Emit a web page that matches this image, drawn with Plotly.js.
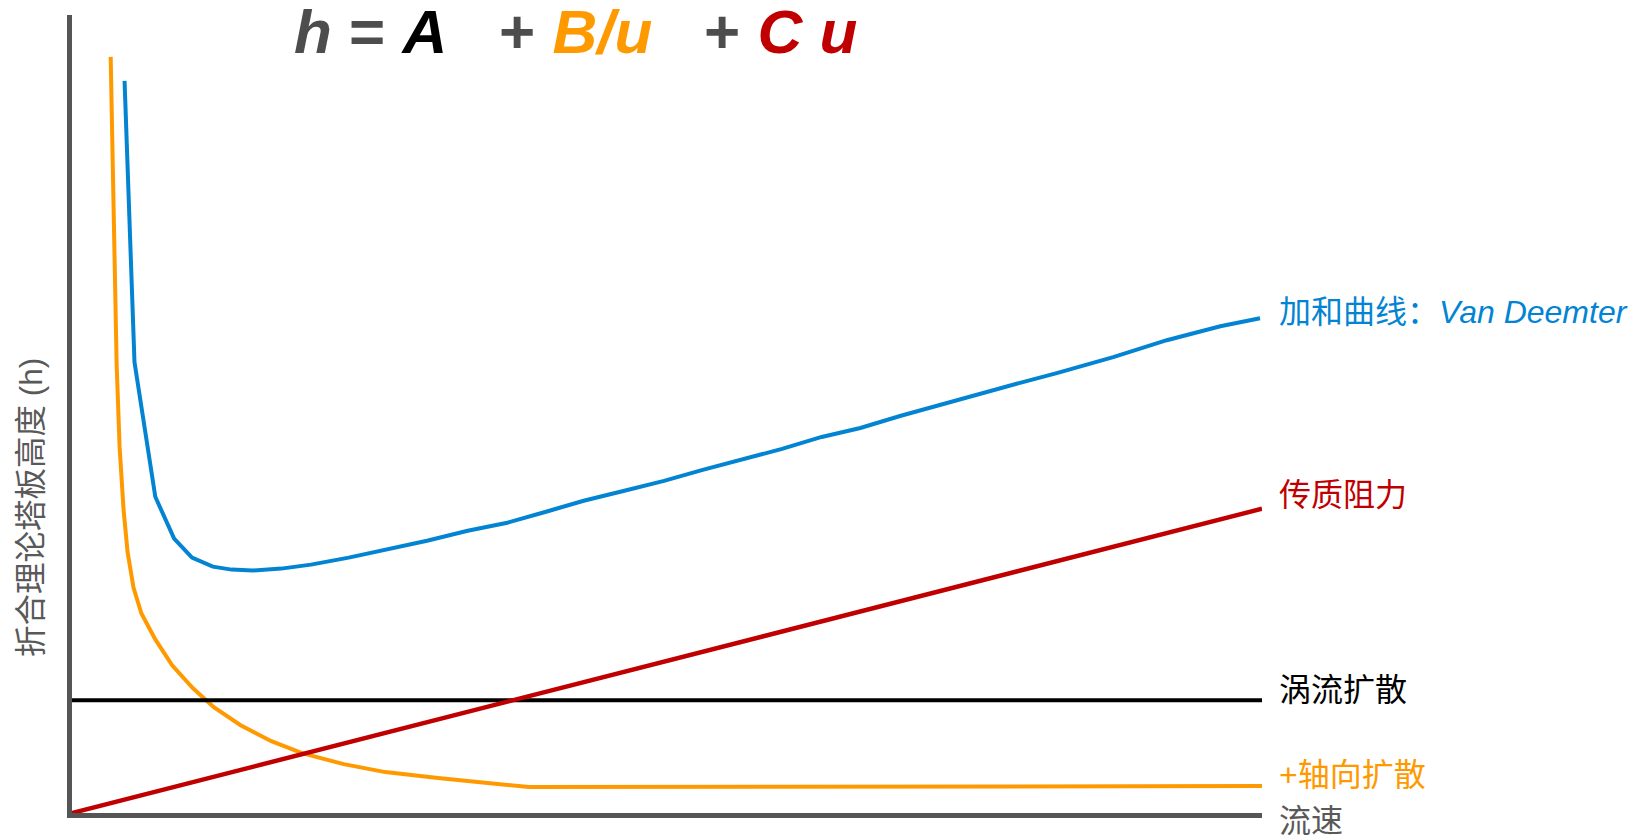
<!DOCTYPE html>
<html>
<head>
<meta charset="utf-8">
<script src="https://cdn.plot.ly/plotly-3.0.1.min.js"></script>
<style>html,body{margin:0;padding:0;background:#fff;}#chart{width:1631px;height:835px;}</style>
</head>
<body>
<div id="chart"></div>
<script>
// Flow velocity u (arbitrary units) and plate height h (arbitrary units)
const sumU = [0.53,0.63,0.84,1.03,1.21,1.42,1.61,1.82,2.11,2.41,2.79,3.18,3.58,3.99,4.39,4.78,5.16,5.57,5.97,6.36,6.76,7.16,7.56,7.95,8.35,8.74,9.14,9.55,9.93,10.50,11.04,11.58,11.98];
const sumH = [7.34,4.52,3.17,2.75,2.56,2.47,2.44,2.43,2.45,2.49,2.56,2.64,2.73,2.83,2.91,3.02,3.13,3.23,3.33,3.44,3.54,3.65,3.77,3.86,3.98,4.09,4.20,4.31,4.41,4.57,4.74,4.88,4.96];

const axialU = [0.39,0.41,0.43,0.45,0.48,0.52,0.56,0.62,0.70,0.84,1.01,1.22,1.43,1.70,2.01,2.32,2.74,3.16,3.69,4.21,4.61,12.00];
const axialH = [7.58,6.59,5.54,4.50,3.67,3.04,2.62,2.26,2.00,1.74,1.48,1.25,1.06,0.88,0.72,0.60,0.49,0.41,0.35,0.30,0.26,0.27];

const massU = [0, 12.0];
const massH = [0, 3.05];

const eddyU = [0, 12.0];
const eddyH = [1.13, 1.13];

const labels = {
  sum: '加和曲线：<i>Van Deemter</i>',
  mass: '传质阻力',
  eddy: '涡流扩散',
  axial: '+轴向扩散',
  xTitle: '流速',
  yTitle: '折合理论塔板高度 (h)'
};

const BLUE = '#0384D3', ORANGE = '#FF9900', RED = '#C00000', GRAY = '#4D4D4D';

const traces = [
  {x: axialU, y: axialH, mode: 'lines', line: {color: ORANGE, width: 4}},
  {x: eddyU, y: eddyH, mode: 'lines', line: {color: '#000000', width: 4}},
  {x: massU, y: massH, mode: 'lines', line: {color: RED, width: 4.5}},
  {x: sumU, y: sumH, mode: 'lines', line: {color: BLUE, width: 4}}
];

const cjk = '"Liberation Sans", "Noto Sans CJK SC", sans-serif';
const lab = (text, y, color) => ({
  xref: 'paper', yref: 'paper', x: 1.0126, y: y, xanchor: 'left', yanchor: 'middle',
  text: text, showarrow: false, font: {family: cjk, size: 32, color: color}
});

const formula = '<b><i>h</i> = <span style="color:#000000"><i>A</i></span>&nbsp;&nbsp; + ' +
  '<span style="color:' + ORANGE + '"><i>B/u</i></span>&nbsp;&nbsp; + ' +
  '<span style="color:' + RED + '"><i>C u</i></span></b>';

const layout = {
  width: 1631, height: 835,
  paper_bgcolor: '#ffffff', plot_bgcolor: '#ffffff',
  margin: {l: 72, r: 369, t: 15, b: 22, pad: 0},
  showlegend: false,
  hovermode: false,
  xaxis: {range: [0, 12], showgrid: false, zeroline: false, showticklabels: false, ticks: '',
          showline: true, linecolor: '#555555', linewidth: 5},
  yaxis: {range: [0, 8], showgrid: false, zeroline: false, showticklabels: false, ticks: '',
          showline: true, linecolor: '#555555', linewidth: 5},
  annotations: [
    {xref: 'paper', yref: 'paper', x: 0.1847, y: 0.979, xanchor: 'left', yanchor: 'middle',
     text: formula, showarrow: false,
     font: {family: '"Liberation Sans", Arial, sans-serif', size: 62, color: GRAY}},
    lab(labels.sum, 0.628, BLUE),
    lab(labels.mass, 0.3985, RED),
    lab(labels.eddy, 0.1545, '#000000'),
    lab(labels.axial, 0.0476, ORANGE),
    lab(labels.xTitle, -0.0097, '#595959'),
    {xref: 'paper', yref: 'paper', x: -0.0345, y: 0.3835, xanchor: 'center', yanchor: 'middle',
     textangle: -90, text: labels.yTitle, showarrow: false,
     font: {family: cjk, size: 31.5, color: '#595959'}}
  ]
};

Plotly.newPlot('chart', traces, layout, {displayModeBar: false, staticPlot: true});
</script>
</body>
</html>
